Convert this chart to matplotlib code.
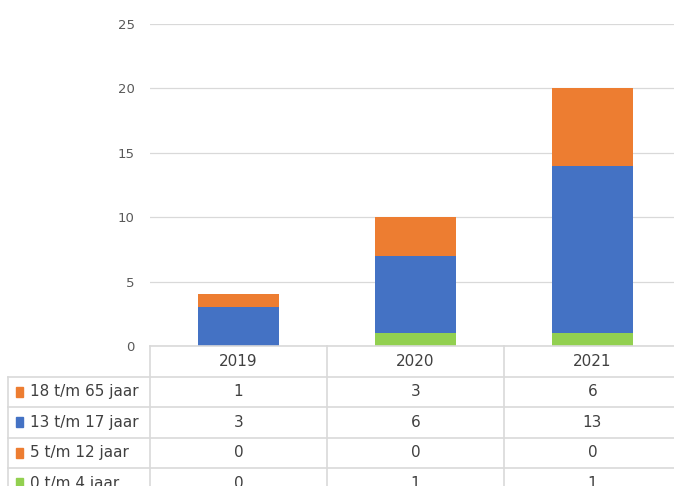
import matplotlib
matplotlib.use("Agg")
from matplotlib import pyplot as plt
import numpy as np

years = ["2019", "2020", "2021"]
labels = ["0 t/m 4 jaar", "5 t/m 12 jaar", "13 t/m 17 jaar", "18 t/m 65 jaar"]
age_0_4 = [0, 1, 1]
age_5_12 = [0, 0, 0]
age_13_17 = [3, 6, 13]
age_18_65 = [1, 3, 6]
colors = ["#92D050", "#ED7D31", "#4472C4", "#ED7D31"]
yticks = [0, 5, 10, 15, 20, 25]

series = [age_0_4, age_5_12, age_13_17, age_18_65]

W, H = 674, 486
fig = plt.figure(figsize=(W / 100, H / 100), dpi=100)
plt.rcParams['font.family'] = ['DejaVu Sans']

# pixel layout (from the reference)
x0, x1 = 150, 681      # plot / table data columns
y_zero, y_top = 346, 24

ax = fig.add_axes([x0 / W, (H - y_zero) / H, (x1 - x0) / W, (y_zero - y_top) / H])
ax.set_xlim(-0.5, len(years) - 0.5)
ax.set_ylim(0, 25)
ax.set_yticks(yticks)
ax.set_xticks([])
for s in ax.spines.values():
    s.set_visible(False)
ax.tick_params(axis="y", length=0, pad=11, labelsize=9.5, labelcolor="#595959")
ax.grid(axis="y", color="#d9d9d9", lw=0.9)
ax.set_axisbelow(True)

x = np.arange(len(years))
bottom = np.zeros(len(years))
for vals, c in zip(series, colors):
    ax.bar(x, vals, 0.46, bottom=bottom, color=c, zorder=3)
    bottom += np.array(vals)

# data table drawn in pixel coordinates
tax = fig.add_axes([0, 0, 1, 1])
tax.set_xlim(0, W)
tax.set_ylim(H, 0)
tax.axis("off")

line_c = "#d9d9d9"
left = 8
row_h = 30.5
rows_y = [y_zero + i * row_h for i in range(6)]
col_w = (x1 - x0) / len(years)
cols_x = [x0 + i * col_w for i in range(len(years) + 1)]

for yy in rows_y[1:]:
    tax.plot([left, x1], [yy, yy], color=line_c, lw=1.2)
tax.plot([x0, x1], [rows_y[0], rows_y[0]], color=line_c, lw=1.2)
for xx in cols_x:
    tax.plot([xx, xx], [rows_y[0], rows_y[-1]], color=line_c, lw=1.2)
tax.plot([left, left], [rows_y[1], rows_y[-1]], color=line_c, lw=1.2)

txt_c = "#404040"
for i, yr in enumerate(years):
    tax.text(x0 + (i + 0.5) * col_w, rows_y[0] + row_h / 2, yr, ha="center",
             va="center", fontsize=11, color=txt_c)

order = [3, 2, 1, 0]
for r, k in enumerate(order):
    yc = rows_y[r + 1] + row_h / 2
    tax.add_patch(plt.Rectangle((16, yc - 5), 7, 10, color=colors[k]))
    tax.text(30, yc, labels[k], ha="left", va="center", fontsize=11, color=txt_c)
    for i in range(len(years)):
        tax.text(x0 + (i + 0.5) * col_w, yc, str(series[k][i]), ha="center",
                 va="center", fontsize=11, color=txt_c)

fig.savefig("out.png", dpi=100)
